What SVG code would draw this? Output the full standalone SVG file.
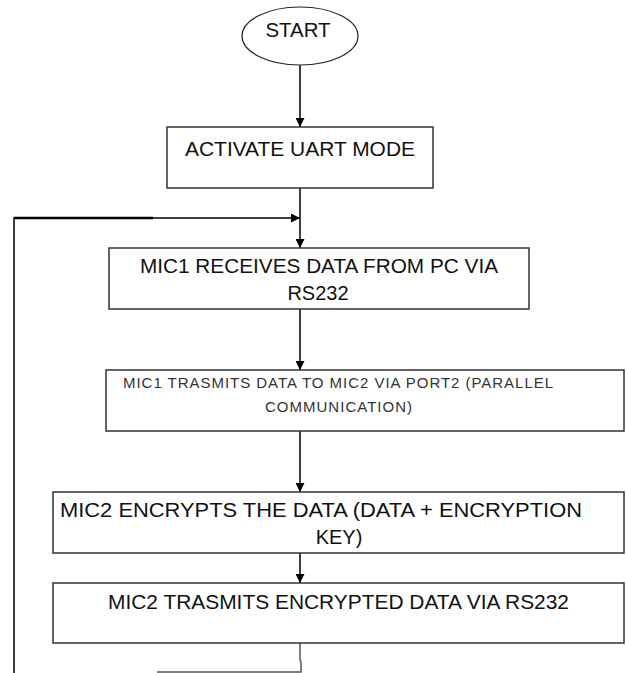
<svg xmlns="http://www.w3.org/2000/svg" width="626" height="673" viewBox="0 0 626 673">
<style>
.box{fill:#fff;stroke:#333;stroke-width:1.5}
.t{font-family:"Liberation Sans",Arial,sans-serif;font-size:20px;fill:#111}
.ts{font-family:"Liberation Sans",Arial,sans-serif;font-size:15px;fill:#333}
.c{stroke:#000;stroke-width:1.5;fill:none}
</style>
<defs>
<marker id="ah" viewBox="0 0 10 10" refX="10" refY="5" markerWidth="9" markerHeight="9" markerUnits="userSpaceOnUse" orient="auto">
<path d="M0,0 L10,5 L0,10 z" fill="#000"/>
</marker>
</defs>
<rect width="626" height="673" fill="#fff"/>
<g id="connectors">
<line class="c" x1="300" y1="65" x2="300" y2="127" marker-end="url(#ah)"/>
<line class="c" x1="300" y1="188" x2="300" y2="248" marker-end="url(#ah)"/>
<polyline class="c" points="14,673 14,218 300,218" marker-end="url(#ah)"/>
<line stroke="#000" stroke-width="2.5" x1="14" y1="218" x2="153" y2="218"/>
<line class="c" x1="300" y1="309" x2="300" y2="370" marker-end="url(#ah)"/>
<line class="c" x1="300" y1="431" x2="300" y2="492" marker-end="url(#ah)"/>
<line class="c" x1="300" y1="553" x2="300" y2="583" marker-end="url(#ah)"/>
<polyline points="300,643 300,660 301,662 301,672 157,672" fill="none" stroke="#555" stroke-width="1.5"/>
</g>
<g id="start">
<ellipse cx="300" cy="36" rx="58" ry="29" fill="#fff" stroke="#222" stroke-width="1.2"/>
<text class="t" x="298" y="37" text-anchor="middle" textLength="65" lengthAdjust="spacingAndGlyphs">START</text>
</g>
<g id="activate">
<rect class="box" x="167" y="127" width="266" height="61"/>
<text class="t" x="185" y="156" textLength="230" lengthAdjust="spacingAndGlyphs">ACTIVATE UART MODE</text>
</g>
<g id="receive">
<rect class="box" x="109" y="248" width="420" height="61"/>
<text class="t" x="140" y="273" textLength="358" lengthAdjust="spacingAndGlyphs">MIC1 RECEIVES DATA FROM PC VIA</text>
<text class="t" x="318" y="300" text-anchor="middle">RS232</text>
</g>
<g id="transmit1">
<rect class="box" x="106" y="370" width="518" height="61"/>
<text class="ts" x="123" y="388" textLength="430" lengthAdjust="spacing">MIC1 TRASMITS DATA TO MIC2 VIA PORT2 (PARALLEL</text>
<text class="ts" x="265" y="412" textLength="147" lengthAdjust="spacing">COMMUNICATION)</text>
</g>
<g id="encrypt">
<rect class="box" x="53" y="492" width="571" height="61"/>
<text class="t" x="60" y="517" textLength="522" lengthAdjust="spacingAndGlyphs">MIC2 ENCRYPTS THE DATA (DATA + ENCRYPTION</text>
<text class="t" x="339" y="544" text-anchor="middle">KEY)</text>
</g>
<g id="transmit2">
<rect class="box" x="53" y="583" width="571" height="60"/>
<text class="t" x="108" y="609" textLength="461" lengthAdjust="spacingAndGlyphs">MIC2 TRASMITS ENCRYPTED DATA VIA RS232</text>
</g>
</svg>
